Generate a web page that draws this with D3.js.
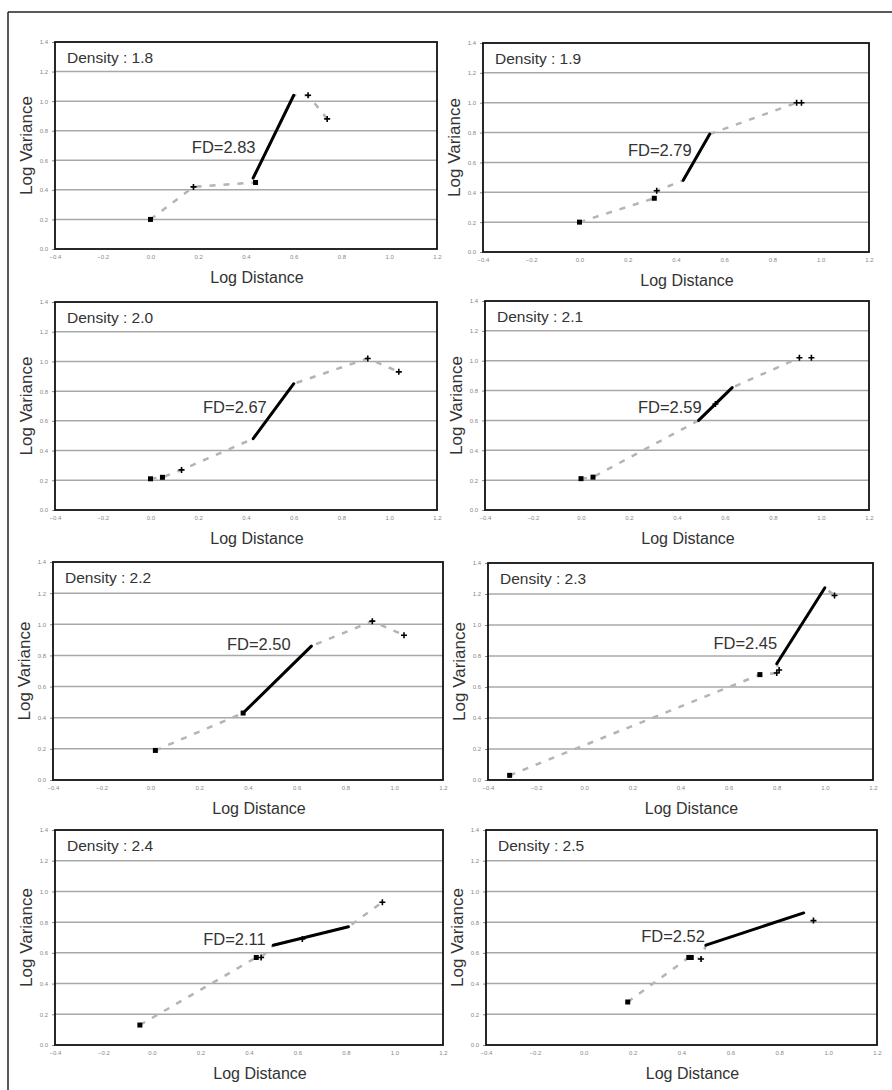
<!DOCTYPE html>
<html lang="en">
<head>
<meta charset="utf-8">
<title>Log Variance vs Log Distance</title>
<script src="https://d3js.org/d3.v7.min.js"></script>
<style>
  body { margin: 0; background: #fff; }
  svg text { font-family: "Liberation Sans", Arial, sans-serif; }
</style>
</head>
<body>
<div id="my_dataviz"></div>
<script>
// tick values
var xTicks = [-0.4, -0.2, 0.0, 0.2, 0.4, 0.6, 0.8, 1.0, 1.2];
var yTicks = [0.0, 0.2, 0.4, 0.6, 0.8, 1.0, 1.2, 1.4];

var densities = ["1.8", "1.9", "2.0", "2.1", "2.2", "2.3", "2.4", "2.5"];
var fdValues  = ["2.83", "2.79", "2.67", "2.59", "2.50", "2.45", "2.11", "2.52"];

// Density 1.8
var path18 = [[0.00,0.20],[0.18,0.42],[0.44,0.45],[0.43,0.48],[0.60,1.04],[0.66,1.04],[0.74,0.88]];
var sq18   = [[0.00,0.20],[0.44,0.45]];
var pl18   = [[0.18,0.42],[0.66,1.04],[0.74,0.88]];
var fit18  = [[0.43,0.48],[0.60,1.04]];

// Density 1.9
var path19 = [[0.00,0.20],[0.31,0.36],[0.32,0.41],[0.43,0.48],[0.54,0.79],[0.90,1.00],[0.92,1.00]];
var sq19   = [[0.00,0.20],[0.31,0.36]];
var pl19   = [[0.32,0.41],[0.90,1.00],[0.92,1.00]];
var fit19  = [[0.43,0.48],[0.54,0.79]];

// Density 2.0
var path20 = [[0.00,0.21],[0.05,0.22],[0.13,0.27],[0.43,0.48],[0.60,0.85],[0.91,1.02],[1.04,0.93]];
var sq20   = [[0.00,0.21],[0.05,0.22]];
var pl20   = [[0.13,0.27],[0.91,1.02],[1.04,0.93]];
var fit20  = [[0.43,0.48],[0.60,0.85]];

// Density 2.1
var path21 = [[0.00,0.21],[0.05,0.22],[0.49,0.60],[0.63,0.82],[0.91,1.02]];
var sq21   = [[0.00,0.21],[0.05,0.22]];
var pl21   = [[0.56,0.71],[0.91,1.02],[0.96,1.02]];
var fit21  = [[0.49,0.60],[0.63,0.82]];

// Density 2.2
var path22 = [[0.02,0.19],[0.38,0.43],[0.66,0.86],[0.91,1.02],[1.04,0.93]];
var sq22   = [[0.02,0.19],[0.38,0.43]];
var pl22   = [[0.91,1.02],[1.04,0.93]];
var fit22  = [[0.38,0.43],[0.66,0.86]];

// Density 2.3
var path23 = [[-0.31,0.03],[0.73,0.68],[0.80,0.69],[0.81,0.71],[0.80,0.75],[1.00,1.24],[1.04,1.19]];
var sq23   = [[-0.31,0.03],[0.73,0.68]];
var pl23   = [[0.80,0.69],[0.81,0.71],[1.04,1.19]];
var fit23  = [[0.80,0.75],[1.00,1.24]];

// Density 2.4
var path24 = [[-0.05,0.13],[0.43,0.57],[0.45,0.57],[0.50,0.65],[0.81,0.77],[0.95,0.93]];
var sq24   = [[-0.05,0.13],[0.43,0.57]];
var pl24   = [[0.45,0.57],[0.62,0.69],[0.95,0.93]];
var fit24  = [[0.50,0.65],[0.81,0.77]];

// Density 2.5
var path25 = [[0.18,0.28],[0.43,0.57],[0.44,0.57],[0.48,0.56],[0.50,0.65],[0.90,0.86]];
var sq25   = [[0.18,0.28],[0.43,0.57],[0.44,0.57]];
var pl25   = [[0.48,0.56],[0.94,0.81]];
var fit25  = [[0.50,0.65],[0.90,0.86]];

var paths = [path18, path19, path20, path21, path22, path23, path24, path25];
var squares = [sq18, sq19, sq20, sq21, sq22, sq23, sq24, sq25];
var pluses = [pl18, pl19, pl20, pl21, pl22, pl23, pl24, pl25];
var fits = [fit18, fit19, fit20, fit21, fit22, fit23, fit24, fit25];

// layout: plot boxes [left, right, top, bottom] in px, FD label anchor in data units
var boxes = [
  [55, 437, 42, 249], [483, 869, 43, 252],
  [55, 437, 302, 510], [485, 869, 301, 510],
  [53, 443, 562, 780], [488, 873, 563, 780],
  [55, 443, 830, 1045], [486, 877, 830, 1045]
];
var fdAnchor = [[0.44,0.65],[0.465,0.64],[0.487,0.65],[0.503,0.652],
                [0.575,0.835],[0.802,0.847],[0.469,0.651],[0.496,0.672]];

var W = 892, H = 1090;
var svg = d3.select("#my_dataviz")
  .append("svg")
    .attr("width", W)
    .attr("height", H);

// outer frame (top and left edges only visible)
svg.append("line").attr("x1", 8).attr("x2", W).attr("y1", 12).attr("y2", 12)
  .attr("stroke", "#222").attr("stroke-width", 1.5);
svg.append("line").attr("x1", 8).attr("x2", 8).attr("y1", 12).attr("y2", H)
  .attr("stroke", "#222").attr("stroke-width", 1.5);

densities.forEach(function(dens, i) {
  var b = boxes[i];
  var x = d3.scaleLinear().domain([-0.4, 1.2]).range([b[0], b[1]]);
  var y = d3.scaleLinear().domain([0, 1.4]).range([b[3], b[2]]);
  var g = svg.append("g");

  // gridlines
  g.selectAll("line.grid")
    .data(yTicks.filter(function(t) { return t > 0 && t < 1.4; }))
    .enter().append("line")
      .attr("x1", b[0]).attr("x2", b[1])
      .attr("y1", function(d) { return y(d); })
      .attr("y2", function(d) { return y(d); })
      .attr("stroke", "#a8a8a8")
      .attr("stroke-width", 1.5);

  // y axis ticks and labels
  var yAxis = d3.axisLeft(y).tickValues(yTicks).tickSize(3).tickPadding(4)
    .tickFormat(d3.format(".1f"));
  var ya = g.append("g").attr("transform", "translate(" + b[0] + ",0)").call(yAxis);
  ya.select(".domain").remove();
  ya.selectAll("line").attr("stroke", "#888");
  ya.selectAll("text").attr("fill", "#888").style("font-size", "6px");

  // x axis labels
  var xAxis = d3.axisBottom(x).tickValues(xTicks).tickSize(0).tickPadding(6)
    .tickFormat(d3.format(".1f"));
  var xa = g.append("g").attr("transform", "translate(0," + b[3] + ")").call(xAxis);
  xa.select(".domain").remove();
  xa.selectAll("text").attr("fill", "#888").style("font-size", "6px");

  // plot frame
  g.append("rect")
    .attr("x", b[0]).attr("y", b[2])
    .attr("width", b[1] - b[0]).attr("height", b[3] - b[2])
    .attr("fill", "none").attr("stroke", "#111").attr("stroke-width", 1.8);

  var line = d3.line()
    .x(function(d) { return x(d[0]); })
    .y(function(d) { return y(d[1]); });

  // gray dashed data line
  g.append("path")
    .datum(paths[i])
    .attr("d", line)
    .attr("fill", "none")
    .attr("stroke", "#b4b4b4")
    .attr("stroke-width", 2.5)
    .attr("stroke-dasharray", "6,8");

  // black fitted segment
  g.append("path")
    .datum(fits[i])
    .attr("d", line)
    .attr("fill", "none")
    .attr("stroke", "#000")
    .attr("stroke-width", 3)
    .attr("stroke-linecap", "round");

  // square markers
  g.selectAll("rect.sq")
    .data(squares[i])
    .enter().append("rect")
      .attr("x", function(d) { return x(d[0]) - 2.5; })
      .attr("y", function(d) { return y(d[1]) - 2.5; })
      .attr("width", 5).attr("height", 5)
      .attr("fill", "#000");

  // plus markers
  g.selectAll("path.pl")
    .data(pluses[i])
    .enter().append("path")
      .attr("d", function(d) {
        var cx = x(d[0]), cy = y(d[1]);
        return "M" + (cx - 3) + "," + cy + "H" + (cx + 3) + "M" + cx + "," + (cy - 3) + "V" + (cy + 3);
      })
      .attr("stroke", "#000")
      .attr("stroke-width", 1.6);

  // panel title
  g.append("text")
    .attr("x", b[0] + 12)
    .attr("y", b[2] + 21)
    .attr("fill", "#333")
    .style("font-size", "15.5px")
    .text("Density : " + dens);

  // FD label
  g.append("text")
    .attr("x", x(fdAnchor[i][0]))
    .attr("y", y(fdAnchor[i][1]))
    .attr("text-anchor", "end")
    .attr("fill", "#333")
    .style("font-size", "16.5px")
    .text("FD=" + fdValues[i]);

  // axis titles
  g.append("text")
    .attr("x", (b[0] + b[1]) / 2 + 11)
    .attr("y", b[3] + 34)
    .attr("text-anchor", "middle")
    .attr("fill", "#333")
    .style("font-size", "16px")
    .text("Log Distance");

  g.append("text")
    .attr("transform", "translate(" + (b[0] - 23) + "," + ((b[2] + b[3]) / 2) + ")rotate(-90)")
    .attr("text-anchor", "middle")
    .attr("fill", "#333")
    .style("font-size", "17px")
    .text("Log Variance");
});
</script>
</body>
</html>
